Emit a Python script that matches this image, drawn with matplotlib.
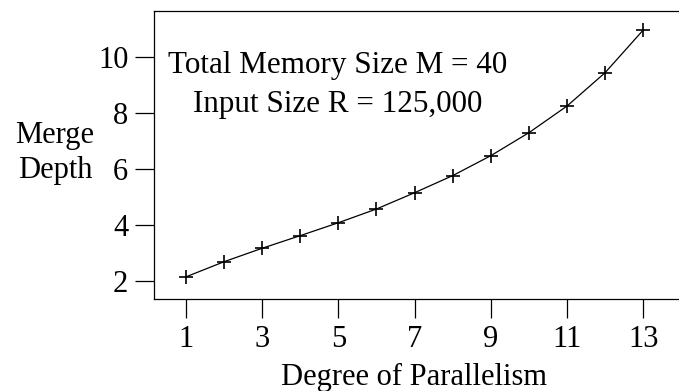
import matplotlib.pyplot as plt

# merge depth vs. degree of parallelism
parallelism = [1, 2, 3, 4, 5, 6, 7, 8, 9, 10, 11, 12, 13]
merge_depth = [2.15, 2.69, 3.17, 3.62, 4.08, 4.57, 5.15, 5.76, 6.47, 7.29, 8.24, 9.43, 10.95]
x_ticks = [1, 3, 5, 7, 9, 11, 13]
y_ticks = [2, 4, 6, 8, 10]

plt.rcParams['font.family'] = ['Liberation Serif', 'DejaVu Serif']

fig = plt.figure(figsize=(6.79, 3.91), dpi=100)
W, H = 679, 391
ax = fig.add_axes([154 / W, 1 - 299 / H, (679 - 154) / W, (299 - 11) / H])

ax.plot(parallelism, merge_depth, color='black', linewidth=0.9,
        marker='+', markersize=10, markeredgewidth=1.2)

ax.set_xlim(0.16, 13.94)
ax.set_ylim(1.36, 11.63)
ax.set_xticks(x_ticks)
ax.set_yticks(y_ticks)
ax.tick_params(direction='out', length=13.5, width=0.9, labelsize=22, pad=5)

for side in ('left', 'bottom', 'top'):
    ax.spines[side].set_linewidth(0.9)
ax.spines['right'].set_visible(False)

ax.text(0.35, 0.81, 'Total Memory Size M = 40', transform=ax.transAxes,
        ha='center', va='center', fontsize=22.4)
ax.text(0.35, 0.677, 'Input Size R = 125,000', transform=ax.transAxes,
        ha='center', va='center', fontsize=22.4)

fig.text(55 / W, 1 - 153 / H, 'Merge\nDepth', ha='center', va='center',
         fontsize=22, linespacing=1.3)
fig.text(414 / W, 1 - 377 / H, 'Degree of Parallelism', ha='center', va='center',
         fontsize=22)

fig.savefig('out.png', dpi=100)
